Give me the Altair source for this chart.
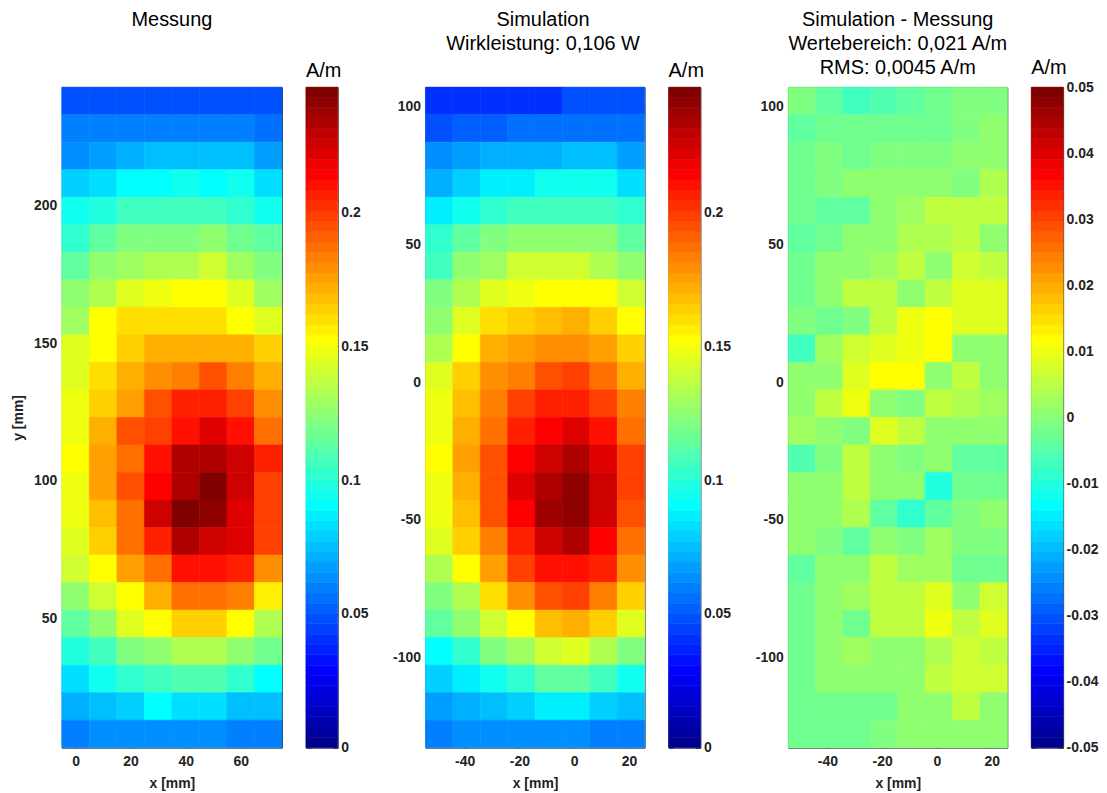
import altair as alt
import pandas as pd

FONT = "Liberation Sans"

# ---------------- data ----------------
x_mess = [0, 10, 20, 30, 40, 50, 60, 70]
y_mess = [238, 228, 218, 208, 198, 188, 178, 168, 158, 148, 138, 128,
          118, 108, 98, 88, 78, 68, 58, 48, 38, 28, 18, 8]
x_sim = [-49.3, -39.3, -29.3, -19.3, -9.3, 0.7, 10.7, 20.7]
y_sim = [102.2, 92.2, 82.2, 72.2, 62.2, 52.2, 42.2, 32.2, 22.2, 12.2, 2.2, -7.8,
         -17.8, -27.8, -37.8, -47.8, -57.8, -67.8, -77.8, -87.8, -97.8, -107.8, -117.8, -127.8]

messung = [
    [0.047, 0.047, 0.049, 0.049, 0.049, 0.049, 0.049, 0.047],
    [0.058, 0.058, 0.058, 0.061, 0.061, 0.061, 0.061, 0.057],
    [0.064, 0.068, 0.070, 0.075, 0.075, 0.075, 0.075, 0.067],
    [0.080, 0.084, 0.089, 0.089, 0.093, 0.090, 0.093, 0.082],
    [0.093, 0.100, 0.108, 0.108, 0.108, 0.108, 0.103, 0.093],
    [0.104, 0.114, 0.120, 0.120, 0.120, 0.124, 0.116, 0.112],
    [0.112, 0.124, 0.131, 0.135, 0.135, 0.139, 0.131, 0.120],
    [0.124, 0.135, 0.143, 0.147, 0.151, 0.151, 0.143, 0.131],
    [0.131, 0.154, 0.159, 0.159, 0.159, 0.159, 0.154, 0.143],
    [0.143, 0.151, 0.163, 0.170, 0.170, 0.173, 0.173, 0.163],
    [0.143, 0.159, 0.172, 0.179, 0.182, 0.193, 0.182, 0.170],
    [0.148, 0.163, 0.177, 0.193, 0.205, 0.205, 0.198, 0.179],
    [0.147, 0.173, 0.193, 0.200, 0.210, 0.222, 0.210, 0.189],
    [0.154, 0.175, 0.189, 0.210, 0.232, 0.235, 0.227, 0.205],
    [0.148, 0.175, 0.193, 0.216, 0.235, 0.247, 0.227, 0.199],
    [0.148, 0.168, 0.187, 0.225, 0.247, 0.242, 0.222, 0.199],
    [0.143, 0.163, 0.187, 0.208, 0.232, 0.227, 0.222, 0.198],
    [0.139, 0.151, 0.175, 0.189, 0.210, 0.210, 0.208, 0.180],
    [0.124, 0.139, 0.154, 0.172, 0.189, 0.189, 0.185, 0.158],
    [0.112, 0.124, 0.143, 0.151, 0.163, 0.163, 0.154, 0.135],
    [0.100, 0.108, 0.120, 0.126, 0.135, 0.135, 0.126, 0.119],
    [0.084, 0.093, 0.103, 0.108, 0.110, 0.110, 0.103, 0.089],
    [0.072, 0.074, 0.079, 0.089, 0.082, 0.082, 0.077, 0.074],
    [0.059, 0.064, 0.064, 0.064, 0.064, 0.064, 0.059, 0.058],
]

simulation = [
    [0.040, 0.040, 0.040, 0.040, 0.040, 0.047, 0.047, 0.047],
    [0.049, 0.054, 0.054, 0.056, 0.056, 0.056, 0.056, 0.056],
    [0.064, 0.068, 0.072, 0.072, 0.072, 0.074, 0.074, 0.068],
    [0.072, 0.079, 0.087, 0.087, 0.093, 0.093, 0.093, 0.083],
    [0.087, 0.096, 0.104, 0.108, 0.108, 0.108, 0.108, 0.103],
    [0.104, 0.114, 0.120, 0.124, 0.124, 0.125, 0.124, 0.112],
    [0.108, 0.124, 0.131, 0.139, 0.139, 0.141, 0.135, 0.124],
    [0.120, 0.135, 0.145, 0.148, 0.154, 0.154, 0.151, 0.141],
    [0.125, 0.143, 0.162, 0.163, 0.166, 0.170, 0.163, 0.151],
    [0.135, 0.154, 0.170, 0.175, 0.180, 0.180, 0.177, 0.163],
    [0.143, 0.163, 0.179, 0.185, 0.193, 0.198, 0.189, 0.170],
    [0.147, 0.168, 0.183, 0.198, 0.205, 0.208, 0.199, 0.183],
    [0.147, 0.172, 0.189, 0.205, 0.216, 0.221, 0.210, 0.189],
    [0.151, 0.175, 0.193, 0.216, 0.227, 0.232, 0.222, 0.198],
    [0.147, 0.172, 0.195, 0.222, 0.235, 0.240, 0.225, 0.198],
    [0.147, 0.168, 0.193, 0.216, 0.237, 0.241, 0.225, 0.195],
    [0.143, 0.163, 0.185, 0.208, 0.227, 0.232, 0.216, 0.189],
    [0.135, 0.151, 0.177, 0.198, 0.210, 0.212, 0.205, 0.179],
    [0.122, 0.133, 0.162, 0.179, 0.193, 0.198, 0.185, 0.163],
    [0.112, 0.125, 0.139, 0.154, 0.166, 0.170, 0.163, 0.143],
    [0.091, 0.104, 0.120, 0.131, 0.139, 0.143, 0.135, 0.122],
    [0.079, 0.087, 0.096, 0.104, 0.112, 0.112, 0.108, 0.096],
    [0.068, 0.072, 0.075, 0.079, 0.085, 0.085, 0.079, 0.075],
    [0.058, 0.062, 0.062, 0.064, 0.062, 0.062, 0.059, 0.058],
]

differenz = [
    [-0.0015, -0.0045, -0.0065, -0.005, -0.0035, -0.003, -0.0015, -0.001],
    [-0.0035, -0.002, -0.002, -0.002, -0.002, -0.002, -0.0015, 0.0],
    [-0.002, -0.001, -0.003, -0.001, -0.001, -0.001, 0.0, 0.0005],
    [-0.002, -0.001, 0.0005, 0.0005, 0.0, 0.0015, -0.001, 0.004],
    [-0.002, -0.0045, -0.0045, 0.001, 0.003, 0.005, 0.005, 0.006],
    [-0.0035, -0.002, 0.001, 0.001, 0.004, 0.004, 0.0055, 0.0],
    [-0.002, 0.0005, 0.001, 0.003, 0.006, 0.0015, 0.007, 0.005],
    [-0.002, 0.0, 0.005, 0.006, 0.0015, 0.006, 0.008, 0.008],
    [-0.001, -0.003, -0.0015, 0.006, 0.0095, 0.011, 0.008, 0.008],
    [-0.0065, 0.003, 0.007, 0.008, 0.0095, 0.011, 0.0015, 0.0005],
    [0.0005, 0.0015, 0.008, 0.011, 0.011, 0.001, 0.0055, 0.001],
    [0.0, 0.006, 0.0095, 0.001, -0.001, 0.0055, 0.004, 0.003],
    [0.003, 0.0005, -0.0015, 0.008, 0.0055, 0.0015, 0.0, 0.0015],
    [-0.005, -0.001, 0.006, 0.0005, -0.0015, 0.0, -0.0045, -0.0045],
    [0.001, 0.001, 0.005, 0.001, 0.0015, -0.0095, -0.002, -0.002],
    [0.0015, 0.0015, 0.004, -0.0045, -0.009, -0.0035, -0.001, 0.0005],
    [0.0015, -0.0015, -0.0035, 0.001, -0.0015, 0.003, -0.001, -0.001],
    [-0.0045, 0.0015, 0.0015, 0.006, 0.003, 0.003, -0.002, -0.002],
    [-0.002, 0.001, 0.003, 0.006, 0.006, 0.008, 0.0, 0.007],
    [-0.002, 0.0015, -0.003, 0.006, 0.006, 0.0095, 0.0055, 0.008],
    [-0.002, 0.001, 0.003, 0.0015, 0.0015, 0.004, 0.007, 0.0055],
    [-0.002, 0.0, 0.0005, 0.0005, 0.001, 0.006, 0.007, 0.007],
    [-0.002, -0.002, -0.002, -0.002, 0.0015, 0.0015, 0.005, 0.0015],
    [-0.002, -0.002, -0.002, -0.001, 0.0, 0.0, 0.0, 0.001],
]

xt_mess = [0, 20, 40, 60]
yt_mess = [50, 100, 150, 200]
xt_sim = [-40, -20, 0, 20]
yt_sim = [-100, -50, 0, 50, 100]
cb_ticks = [0, 0.05, 0.1, 0.15, 0.2]
cb_ticks_diff = [-0.05, -0.04, -0.03, -0.02, -0.01, 0, 0.01, 0.02, 0.03, 0.04, 0.05]

VMAX = 0.247
DMAX = 0.05

# ---------------- MATLAB jet(64) colormap ----------------
def jet64():
    n, m = 64, 16
    u = [i / m for i in range(1, m + 1)] + [1.0] * (m - 1) + [i / m for i in range(m, 0, -1)]
    g = [m // 2 + i for i in range(1, len(u) + 1)]
    J = [[0.0, 0.0, 0.0] for _ in range(n)]
    r = [gi + m for gi in g if gi + m <= n]
    gg = [gi for gi in g if gi <= n]
    b = [gi - m for gi in g if gi - m >= 1]
    for k, ri in enumerate(r):
        J[ri - 1][0] = u[k]
    for k, gi in enumerate(gg):
        J[gi - 1][1] = u[k]
    off = len(u) - len(b)
    for k, bi in enumerate(b):
        J[bi - 1][2] = u[off + k]
    return ["#%02x%02x%02x" % tuple(int(round(c * 255)) for c in row) for row in J]

JET = jet64()
LE = "replace(datum.label, '\u2212', '-')"
TK = dict(domain=False, grid=False, tickColor="#333333", tickWidth=1, tickSize=5, offset=-5,
          labelFont=FONT, labelFontSize=14, labelFontWeight="bold", labelColor="#222222",
          titleFont=FONT, titleFontSize=14, titleFontWeight="bold", titleColor="#222222")
H = 663


def grid(xs, ys, vals):
    rows = []
    for j, y in enumerate(ys):
        for i, x in enumerate(xs):
            rows.append(dict(x0=x - 5, x1=x + 5, y0=y - 5, y1=y + 5, v=vals[j][i]))
    return pd.DataFrame(rows)


def heat(df, xdom, ydom, xt, yt, title_lines, ytitle, vmin, vmax, w, dx=0):
    xs = alt.Scale(domain=xdom, nice=False, zero=False)
    ys = alt.Scale(domain=ydom, nice=False, zero=False)
    col = alt.Scale(type="quantize", domain=[vmin, vmax], range=JET)
    main = alt.Chart(df).mark_rect(strokeWidth=0.6).encode(
        x=alt.X("x0:Q", scale=xs, axis=alt.Axis(orient="bottom", values=xt, title="x [mm]",
                                                labelPadding=7, titlePadding=8, labelExpr=LE, **TK)),
        x2="x1:Q",
        y=alt.Y("y0:Q", scale=ys, axis=alt.Axis(orient="left", values=yt, title=ytitle,
                                                labelPadding=5, titlePadding=8, labelExpr=LE, **TK)),
        y2="y1:Q",
        color=alt.Color("v:Q", scale=col, legend=None),
        stroke=alt.Stroke("v:Q", scale=col, legend=None),
    )
    mirror = alt.Chart(df).mark_point(opacity=0).encode(
        x=alt.X("x0:Q", scale=xs, axis=alt.Axis(orient="top", values=xt, labels=False, title=None, **TK)),
        y=alt.Y("y0:Q", scale=ys, axis=alt.Axis(orient="right", values=yt, labels=False, title=None, **TK)),
    )
    t = alt.TitleParams(text=title_lines, anchor="middle", baseline="alphabetic", offset=-7, dx=dx,
                        font=FONT, fontSize=20, fontWeight="normal", color="#000000",
                        lineHeight=24, frame="group")
    return alt.layer(main, mirror, title=t).resolve_scale(x="independent", y="independent").properties(
        width=w, height=H)


def cbar(vmin, vmax, ticks, toff):
    step = (vmax - vmin) / 64
    lo = [vmin + i * step for i in range(64)]
    df = pd.DataFrame({"lo": lo, "hi": [v + step for v in lo], "mid": [v + step / 2 for v in lo],
                       "a": [0] * 64, "b": [1] * 64})
    col = alt.Scale(type="quantize", domain=[vmin, vmax], range=JET)
    ys = alt.Scale(domain=[vmin, vmax], nice=False, zero=False)
    bar = alt.Chart(df).mark_rect(strokeWidth=0.6).encode(
        x=alt.X("a:Q", scale=alt.Scale(domain=[0, 1]), axis=None),
        x2="b:Q",
        y=alt.Y("lo:Q", scale=ys, axis=alt.Axis(orient="left", values=ticks, labels=False, title=None, **TK)),
        y2="hi:Q",
        color=alt.Color("mid:Q", scale=col, legend=None),
        stroke=alt.Stroke("mid:Q", scale=col, legend=None),
    )
    lab = alt.Chart(df).mark_point(opacity=0).encode(
        y=alt.Y("lo:Q", scale=ys, axis=alt.Axis(orient="right", values=ticks, title=None, format="~g",
                                                labelPadding=3, labelExpr=LE, **TK)),
    )
    t = alt.TitleParams(text="A/m", anchor="start", baseline="alphabetic", offset=toff, font=FONT,
                        fontSize=20, fontWeight="normal", color="#000000", frame="group")
    return alt.layer(bar, lab, title=t).resolve_scale(y="independent").properties(width=32, height=H)


def spacer():
    return alt.Chart(pd.DataFrame({"a": [0]})).mark_point(opacity=0).encode(
        x=alt.value(0), y=alt.value(0)
    ).properties(width=40, height=H, view=alt.ViewBackground(strokeOpacity=0))


h1 = heat(grid(x_mess, y_mess, messung), [-5, 75], [3, 243], xt_mess, yt_mess,
          ["Messung", " ", " "], "y [mm]", 0, VMAX, 221)
h2 = heat(grid(x_sim, y_sim, simulation), [-54.3, 25.7], [-132.8, 107.2], xt_sim, yt_sim,
          ["Simulation", "Wirkleistung: 0,106 W", " "], None, 0, VMAX, 220, dx=8)
h3 = heat(grid(x_sim, y_sim, differenz), [-54.3, 25.7], [-132.8, 107.2], xt_sim, yt_sim,
          ["Simulation - Messung", "Wertebereich: 0,021 A/m", "RMS: 0,0045 A/m"], None, -DMAX, DMAX, 220)

c1 = cbar(0, VMAX, cb_ticks, -10)
c2 = cbar(0, VMAX, cb_ticks, -10)
c3 = cbar(-DMAX, DMAX, cb_ticks_diff, -14)

chart = alt.hconcat(h1, c1, spacer(), h2, c2, spacer(), h3, c3, spacing=24, bounds="flush").resolve_scale(
    color="independent", stroke="independent", x="independent", y="independent"
).configure_view(
    stroke="#404040", strokeWidth=1
).properties(
    padding={"left": 3, "top": 0, "right": 0, "bottom": 0},
    background="white",
)

chart.save("out.html", embed_options={"renderer": "svg", "actions": False})
